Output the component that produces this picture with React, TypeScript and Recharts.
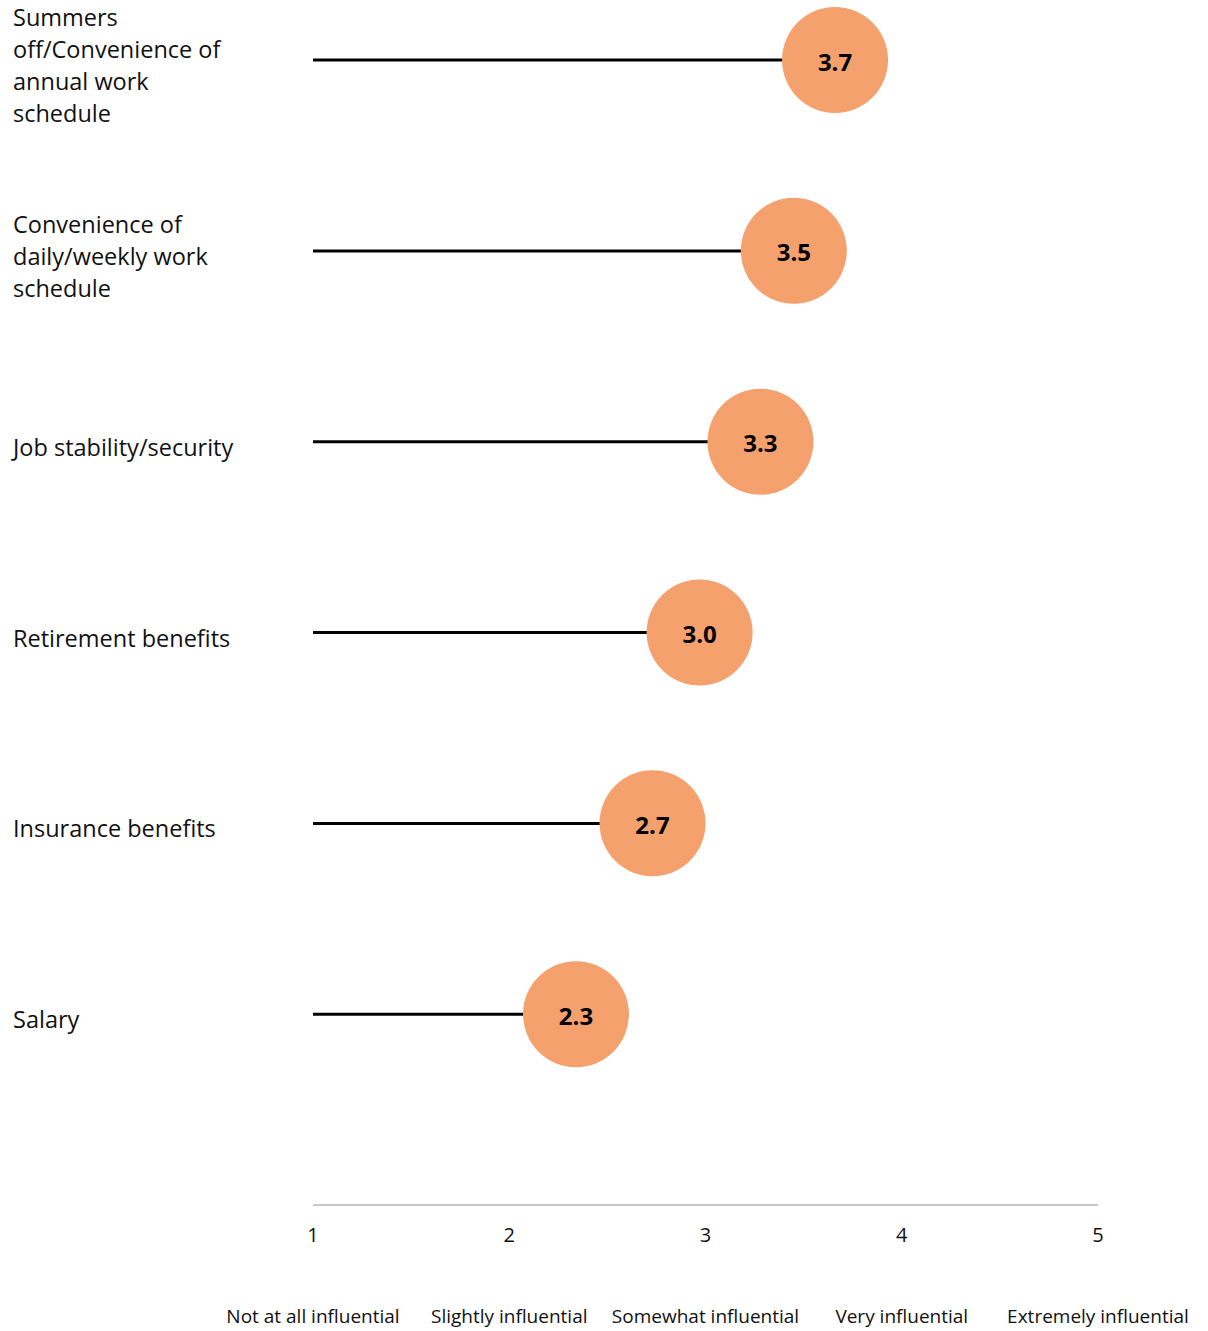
import React from "react";
import {
  ComposedChart,
  Bar,
  Scatter,
  XAxis,
  YAxis,
} from "recharts";

const factors = [
  ["Summers", "off/Convenience of", "annual work", "schedule"],
  ["Convenience of", "daily/weekly work", "schedule"],
  ["Job stability/security"],
  ["Retirement benefits"],
  ["Insurance benefits"],
  ["Salary"],
];
const scores = [3.66, 3.45, 3.28, 2.97, 2.73, 2.34];
const scoreLabels = ["3.7", "3.5", "3.3", "3.0", "2.7", "2.3"];
const scaleTicks = [1, 2, 3, 4, 5];
const scaleLabels = [
  "Not at all influential",
  "Slightly influential",
  "Somewhat influential",
  "Very influential",
  "Extremely influential",
];

const FONT = "'Open Sans', sans-serif";

const rows = factors.map((f, i) => ({
  idx: i,
  range: [1, scores[i]],
  score: scores[i],
  label: scoreLabels[i],
}));

const FactorTick = (props: any) => {
  const { y, payload } = props;
  const lines = factors[payload.value];
  if (!lines) return null;
  const lh = 32;
  const start = y - ((lines.length - 1) * lh) / 2 + 5;
  return (
    <text x={13} y={start} textAnchor="start" fontFamily={FONT} fontSize={23.5} fill="#111">
      {lines.map((l, k) => (
        <tspan key={k} x={13} y={start + k * lh} dominantBaseline="central">
          {l}
        </tspan>
      ))}
    </text>
  );
};

const ScaleTick = (props: any) => {
  const { x, y, payload } = props;
  const i = scaleTicks.indexOf(payload.value);
  return (
    <g>
      <text x={x} y={y + 21} textAnchor="middle" dominantBaseline="central" fontFamily={FONT} fontSize={20} fill="#111">
        {payload.value}
      </text>
      <text x={x} y={y + 103} textAnchor="middle" dominantBaseline="central" fontFamily={FONT} fontSize={19} fill="#111">
        {scaleLabels[i]}
      </text>
    </g>
  );
};

const Dot = (props: any) => {
  const { cx, cy, payload } = props;
  return (
    <g>
      <circle cx={cx} cy={cy} r={53} fill="#F4A16E" />
      <text x={cx} y={cy + 1} textAnchor="middle" dominantBaseline="central" fontFamily={FONT} fontWeight={700} fontSize={24} fill="#000">
        {payload.label}
      </text>
    </g>
  );
};

export default function App() {
  return (
    <div style={{ width: 1208, height: 1331, background: "#fff" }}>
      <style>{`body{margin:0;}`}</style>
      <ComposedChart
        width={1208}
        height={1331}
        data={rows}
        layout="vertical"
        margin={{ top: 60, right: 110, bottom: 6, left: 0 }}
        style={{ overflow: "visible" }}
      >
        <XAxis
          type="number"
          dataKey="score"
          domain={[1, 5]}
          ticks={scaleTicks}
          interval={0}
          axisLine={{ stroke: "#c8c8c8", strokeWidth: 2 }}
          tickLine={false}
          height={120}
          tick={<ScaleTick />}
        />
        <YAxis
          type="number"
          dataKey="idx"
          domain={[0, 6]}
          ticks={[0, 1, 2, 3, 4, 5]}
          interval={0}
          width={313}
          axisLine={false}
          tickLine={false}
          tick={<FactorTick />}
        />
        <Bar dataKey="range" fill="#000" barSize={3} isAnimationActive={false} />
        <Scatter dataKey="score" shape={<Dot />} isAnimationActive={false} />
      </ComposedChart>
    </div>
  );
}
